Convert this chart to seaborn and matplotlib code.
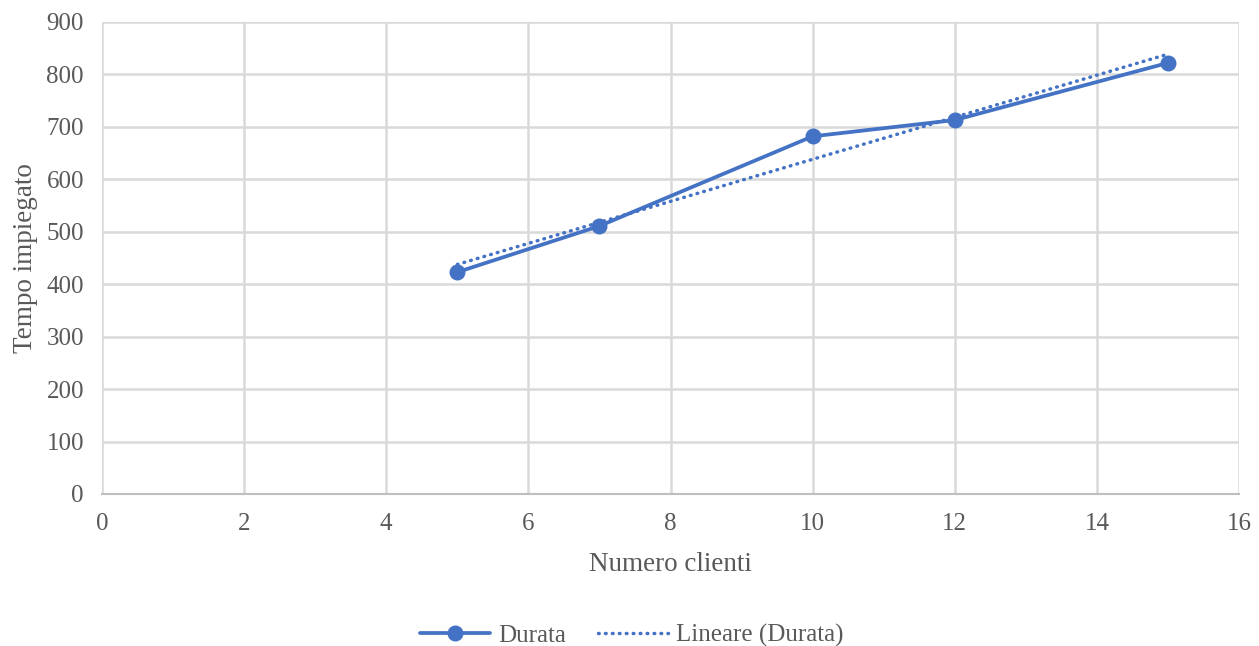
import matplotlib
matplotlib.use("Agg")
import matplotlib.pyplot as plt
import seaborn as sns
import pandas as pd

clienti = [5, 7, 10, 12, 15]
durata = [423, 511, 682, 713, 822]
x_ticks = [0, 2, 4, 6, 8, 10, 12, 14, 16]
y_ticks = [0, 100, 200, 300, 400, 500, 600, 700, 800, 900]

sns.set_theme(style="white")
plt.rcParams["font.family"] = ["Liberation Serif", "DejaVu Serif"]

blue = "#4472C4"
grid = "#D9D9D9"
text = "#595959"

df = pd.DataFrame({"Numero clienti": clienti, "Tempo impiegato": durata})

fig = plt.figure(figsize=(12.59, 6.46), dpi=100)
ax = fig.add_axes([102 / 1259, 1 - 494 / 646, (1239 - 102) / 1259, (494 - 22) / 646])

# linear trend line over the data range
sns.regplot(data=df, x="Numero clienti", y="Tempo impiegato", ax=ax, ci=None,
            scatter=False, truncate=True, label="Lineare (Durata)",
            line_kws=dict(color=blue, lw=2.5, linestyle=(0, (0.2, 1.8)),
                          dash_capstyle="round", zorder=3))
sns.lineplot(data=df, x="Numero clienti", y="Tempo impiegato", ax=ax, color=blue,
             lw=2.7, marker="o", markersize=11.5, markeredgewidth=0,
             label="Durata", zorder=4)

ax.set_xlim(0, 16)
ax.set_ylim(0, 900)
ax.set_xticks(x_ticks)
ax.set_yticks(y_ticks)
ax.grid(True, color=grid, lw=1.8)
ax.set_axisbelow(True)
for side in ["top", "right", "left"]:
    ax.spines[side].set_visible(False)
ax.spines["bottom"].set_color("#BFBFBF")
ax.spines["bottom"].set_linewidth(1.5)
ax.tick_params(axis="both", length=0, labelsize=18, labelcolor=text)
ax.tick_params(axis="y", pad=13)
ax.tick_params(axis="x", pad=14)
ax.set_xlabel("Numero clienti", fontsize=19.5, color=text, labelpad=12)
ax.set_ylabel("Tempo impiegato", fontsize=19.5, color=text, labelpad=6)

handles, labels = ax.get_legend_handles_labels()
order = [labels.index("Durata"), labels.index("Lineare (Durata)")]
leg = ax.legend([handles[i] for i in order], [labels[i] for i in order],
                loc="center", bbox_to_anchor=(0.466, -0.30), ncol=2, frameon=False,
                fontsize=18, handlelength=2.8, columnspacing=1.3, handletextpad=0.3)
for t in leg.get_texts():
    t.set_color(text)

fig.savefig("out.png", dpi=100)
